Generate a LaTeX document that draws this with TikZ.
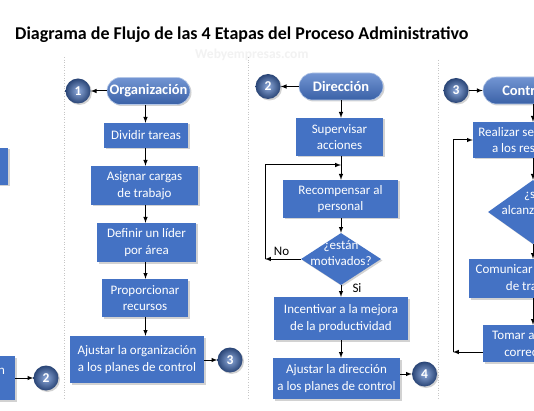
\documentclass[tikz,border=0pt]{standalone}
\usepackage{fontspec}
\setmainfont{Carlito}
\usetikzlibrary{shapes.geometric,shapes.misc,shadows}
\definecolor{azul}{HTML}{4472C4}
\tikzset{
	sombra/.style={drop shadow={shadow xshift=1.5pt, shadow yshift=-1.5pt, opacity=0.35}},
	paso/.style={rectangle, fill=azul, text=white, align=center, inner sep=0pt, font=\fontsize{13}{16.5}\selectfont, sombra},
	etapa/.style={rounded rectangle, top color=azul!75!white, bottom color=azul!85!black, draw=azul!40!white, line width=0.6pt, text=white, inner sep=0pt, minimum height=27pt, font=\fontsize{14.5}{17}\selectfont\bfseries, sombra},
	numero/.style={circle, inner color=azul!60!white, outer color=azul!60!black, text=white, minimum size=25pt, inner sep=0pt, font=\fontsize{13.5}{15}\selectfont\bfseries, sombra},
	pregunta/.style={diamond, fill=azul, inner sep=0pt, sombra},
	preguntatexto/.style={text=white, align=center, inner sep=0pt, font=\fontsize{13}{16}\selectfont},
	etiqueta/.style={inner sep=0pt, font=\fontsize{13}{15}\selectfont},
	flecha/.style={-latex, line width=1pt},
	separador/.style={gray!45, dotted, line width=0.6pt},
}

\begin{document}
\begin{tikzpicture}[x=1pt, y=-1pt]
		%%%%% START %%%%%
		\useasboundingbox (0,0) rectangle (534,411);
		\clip (0,0) rectangle (534,411);
		\fill[white] (0,0) rectangle (534,411);
		
		\node[anchor=base west, inner sep=0pt, font=\fontsize{18}{21}\selectfont\bfseries] (titulo) at (15,40) {Diagrama de Flujo de las 4 Etapas del Proceso Administrativo};
		\node[anchor=base west, inner sep=0pt, text=gray!10, font=\fontsize{13.5}{16}\selectfont\bfseries] (marca) at (195,58.5) {Webyempresas.com};
		
		\draw[separador] (64,57) -- (64,400);
		\draw[separador] (248,57) -- (248,400);
		\draw[separador] (438,60) -- (438,400);
		
		%% planeacion
		\node[paso, minimum width=136pt, minimum height=37pt] (plan) at (-60,166.5) {};
		\node[paso, minimum width=130pt, minimum height=44pt] (ajustarplan) at (-50,378) {Ajustar la planeación\\a la fase de control};
		\node[numero] (dosA) at (46,378) {2};
		\draw[flecha] (ajustarplan) -- (dosA);
		
		%% organizacion
		\coordinate (ejeB) at (145.5,0);
		\node[etapa, minimum width=83pt] (org) at (148.5,91) {Organización};
		\node[numero] (uno) at (78,91) {1};
		\draw[flecha] (org) -- (uno);
		
		\node[paso, minimum width=84pt, minimum height=25pt] (dividir) at (146,135.5) {Dividir tareas};
		\node[paso, minimum width=107pt, minimum height=39pt] (asignar) at (144.5,185.5) {Asignar cargas\\de trabajo};
		\node[paso, minimum width=99pt, minimum height=39pt] (definir) at (146.5,242.5) {Definir un líder\\por área};
		\node[paso, minimum width=86pt, minimum height=38pt] (proporcionar) at (145,298) {Proporcionar\\recursos};
		\node[paso, minimum width=134pt, minimum height=47pt] (ajustarorg) at (137,359.5) {Ajustar la organización\\a los planes de control};
		\node[numero] (tresA) at (230,360) {3};
		
		\draw[flecha] (org.south -| ejeB) -- (dividir.north -| ejeB);
		\draw[flecha] (dividir.south -| ejeB) -- (asignar.north -| ejeB);
		\draw[flecha] (asignar.south -| ejeB) -- (definir.north -| ejeB);
		\draw[flecha] (definir.south -| ejeB) -- (proporcionar.north -| ejeB);
		\draw[flecha] (proporcionar.south -| ejeB) -- (ajustarorg.north -| ejeB);
		\draw[flecha] (ajustarorg.east |- tresA) -- (tresA);
		
		%% direccion
		\coordinate (ejeC) at (341,0);
		\node[etapa, minimum width=84pt] (dir) at (341,86.5) {Dirección};
		\node[numero] (dosB) at (268,86.5) {2};
		\draw[flecha] (dir) -- (dosB);
		
		\node[paso, minimum width=87pt, minimum height=38pt] (supervisar) at (339.5,137) {Supervisar\\acciones};
		\node[paso, minimum width=115pt, minimum height=38pt] (recompensar) at (340.5,199) {Recompensar al\\personal};
		\node[pregunta, minimum width=80pt, minimum height=52pt] (motivados) at (341,259) {};
		\node[preguntatexto] (motivtexto) at (341,253.5) {¿están\\motivados?};
		\node[paso, minimum width=134pt, minimum height=43pt] (incentivar) at (341,318.5) {Incentivar a la mejora\\de la productividad};
		\node[paso, minimum width=127pt, minimum height=41pt] (ajustardir) at (336.5,378.5) {Ajustar la dirección\\a los planes de control};
		\node[numero] (cuatro) at (424.5,374) {4};
		
		\node[etiqueta] (no) at (281.5,251.5) {No};
		\node[etiqueta] (si) at (357,288) {Si};
		
		\coordinate (noEsq) at (265,259);
		\coordinate (noArr) at (265,165);
		\draw[flecha] (dir.south -| ejeC) -- (supervisar.north -| ejeC);
		\draw[flecha] (supervisar.south -| ejeC) -- (recompensar.north -| ejeC);
		\draw[flecha] (recompensar.south -| ejeC) -- (motivados.north);
		\draw[flecha] (motivados.south) -- (incentivar.north -| ejeC);
		\draw[flecha] (incentivar.south -| ejeC) -- (ajustardir.north -| ejeC);
		\draw[flecha] (ajustardir.east |- cuatro) -- (cuatro);
		\draw[flecha] (motivados.west) -- (noEsq);
		\draw[flecha] (noEsq) -- (noArr) -- (noArr -| ejeC);
		
		%% control
		\coordinate (ejeD) at (533,0);
		\node[numero] (tresB) at (456,90.5) {3};
		\node[etapa, minimum width=83pt] (control) at (524.5,90.5) {Control};
		\draw[flecha] (tresB) -- (control);
		
		\node[paso, minimum width=120pt, minimum height=36pt] (realizar) at (533,140) {Realizar seguimiento\\a los resultados};
		\node[pregunta, minimum width=90pt, minimum height=64pt] (alcanzo) at (533,212) {};
		\node[preguntatexto] (alcanzotexto) at (533,203.5) {¿se\\alcanzaron?};
		\node[paso, minimum width=128pt, minimum height=39pt] (comunicar) at (533,278.5) {Comunicar resultados\\de trabajo};
		\node[paso, minimum width=100pt, minimum height=37pt] (tomar) at (533,343.5) {Tomar acciones\\correctivas};
		
		\coordinate (vuelta) at (453,352);
		\draw[flecha] (control.south -| ejeD) -- (realizar.north -| ejeD);
		\draw[flecha] (realizar.south -| ejeD) -- (alcanzo.north);
		\draw[flecha] (alcanzo.south) -- (comunicar.north -| ejeD);
		\draw[flecha] (comunicar.south -| ejeD) -- (tomar.north -| ejeD);
		\draw[flecha] (tomar.west |- vuelta) -- (vuelta);
		\draw[flecha] (vuelta) |- (realizar.west);
		
		%%%%% END %%%%%
	\end{tikzpicture}
\end{document}
